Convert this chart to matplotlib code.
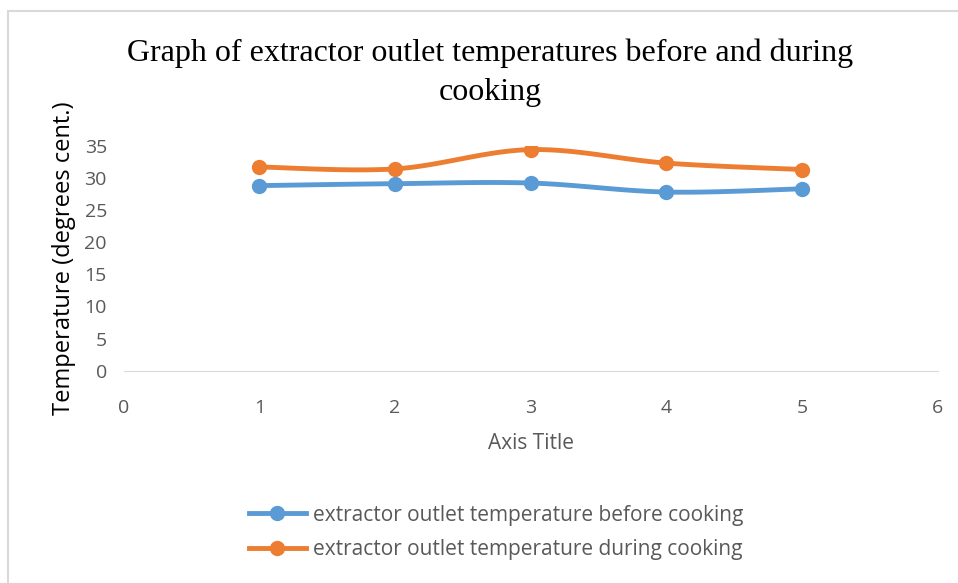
import numpy as np
import matplotlib.pyplot as plt
from matplotlib.patches import Rectangle

x = [1, 2, 3, 4, 5]
before = [28.8, 29.1, 29.2, 27.8, 28.3]
during = [31.7, 31.4, 34.4, 32.3, 31.3]

blue = '#5b9bd5'
orange = '#ed7d31'
gray = '#595959'


def smooth(xs, ys, n=30):
    # Excel-like smoothed line: catmull-rom through the points
    xs = np.asarray(xs, float)
    ys = np.asarray(ys, float)
    px = np.concatenate([[xs[0]], xs, [xs[-1]]])
    py = np.concatenate([[ys[0]], ys, [ys[-1]]])
    ox, oy = [], []
    for i in range(1, len(px) - 2):
        t = np.linspace(0, 1, n)
        for p, o in ((px, ox), (py, oy)):
            p0, p1, p2, p3 = p[i - 1], p[i], p[i + 1], p[i + 2]
            c1 = p1 + (p2 - p0) / 6
            c2 = p2 - (p3 - p1) / 6
            o.extend((1 - t) ** 3 * p1 + 3 * (1 - t) ** 2 * t * c1
                     + 3 * (1 - t) * t ** 2 * c2 + t ** 3 * p2)
    return ox, oy


fig = plt.figure(figsize=(9.58, 5.83), dpi=100)
fig.patches.append(Rectangle((0.0085, -0.05), 1.2, 1.031, transform=fig.transFigure,
                             fill=False, edgecolor='#d9d9d9', lw=1.5))
ax = fig.add_axes([0.129, 0.364, 0.850, 0.386])

for ys, c in ((before, blue), (during, orange)):
    sx, sy = smooth(x, ys)
    ax.plot(sx, sy, color=c, lw=3.5, solid_capstyle='round')
    ax.plot(x, ys, 'o', color=c, ms=10)

ax.set_xlim(0, 6)
ax.set_ylim(0, 35)
ax.set_xticks(range(7))
ax.set_yticks(range(0, 36, 5))
for s in ['top', 'right', 'left']:
    ax.spines[s].set_visible(False)
ax.spines['bottom'].set_color('#d9d9d9')
ax.tick_params(length=0, labelsize=14, labelcolor=gray)
ax.tick_params(axis='x', pad=20)
ax.tick_params(axis='y', pad=12)
for lab in ax.get_xticklabels() + ax.get_yticklabels():
    lab.set_family('Open Sans')

ax.set_ylabel('Temperature (degrees cent.)', fontsize=17, family='Open Sans', labelpad=6)
ax.set_xlabel('Axis Title', fontsize=15, color=gray, family='Open Sans', labelpad=12)

fig.text(0.512, 0.908, 'Graph of extractor outlet temperatures before and during',
         ha='center', va='center', fontsize=23, family='Liberation Serif')
fig.text(0.512, 0.842, 'cooking', ha='center', va='center', fontsize=23,
         family='Liberation Serif')

h1 = ax.plot([], [], '-o', color=blue, lw=3.5, ms=10)[0]
h2 = ax.plot([], [], '-o', color=orange, lw=3.5, ms=10)[0]
fig.legend([h1, h2], ['extractor outlet temperature before cooking',
                      'extractor outlet temperature during cooking'],
           loc='center', bbox_to_anchor=(0.518, 0.087), frameon=False,
           prop={'family': 'Open Sans', 'size': 15}, labelcolor=gray,
           handlelength=2.7, handletextpad=0.35, labelspacing=0.65)

fig.savefig('out.png', dpi=100)
